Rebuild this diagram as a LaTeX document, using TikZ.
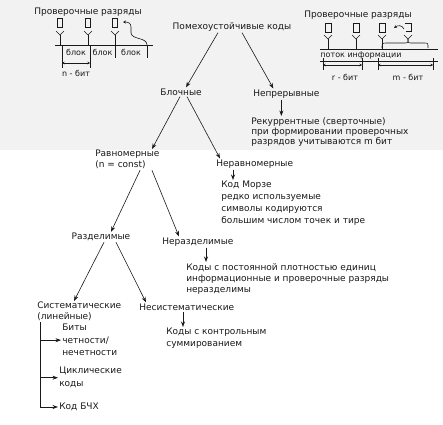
\documentclass[tikz,border=0pt]{standalone}
\usepackage{fontspec}
\setmainfont{DejaVu Sans}
\usepackage{tikz}
\usetikzlibrary{arrows.meta}

\tikzset{
  lbl/.style={inner sep=1pt, font=\fontsize{9}{11}\selectfont},
  multi/.style={lbl, align=left, anchor=north west},
  small/.style={inner sep=0.5pt, font=\fontsize{8}{9}\selectfont},
  arr/.style={->},
  dim/.style={<->, >={Stealth[length=2.5pt,width=2.5pt]}},
}

\begin{document}
\begin{tikzpicture}[x=1pt, y=-1pt, line width=0.6pt, color=black!90, >={Stealth[length=5.5pt,width=4pt]}]
				% Background
				\fill[black!5] (0,0) rectangle (443,150);
				\useasboundingbox (0,0) rectangle (443,424);
				
				% Left block scheme
				\node[lbl] (chkL) at (88,12) {Проверочные разряды};
				\foreach \x in {60,88,115} {
					\draw (\x-2.5,18) rectangle (\x+2.5,27);
					\draw (\x-4,31) -- (\x,35) -- (\x+4,31);
					\draw (\x,35) -- (\x,45);
				}
				\draw (55,45) -- (153,45);
				\foreach \x in {62,90,115,147}
					\draw (\x,45) -- (\x,58);
				\node[small] (b1) at (76,52) {блок};
				\node[small] (b2) at (102.5,52) {блок};
				\node[small] (b3) at (131,52) {блок};
				\draw (62,58) -- (62,68);
				\draw (90,58) -- (90,68);
				\draw[dim] (62,63) -- (90,63);
				\node[small] (nbit) at (76,73) {n - бит};
				\draw[->, >={Stealth[length=3pt,width=3pt]}] (147,45) .. controls (147,37) and (132,40) .. (131,33) -- (131,27) .. controls (131,23) and (128,22) .. (123,22);
				
				% Right stream scheme
				\node[lbl] (chkR) at (358,15) {Проверочные разряды};
				\foreach \x in {328,356,382} {
					\draw (\x-3,23) rectangle (\x+3,32);
					\draw (\x-4,35) -- (\x,39) -- (\x+4,35);
					\draw (\x,39) -- (\x,49);
				}
				\draw (405,23) -- (411,23) -- (411,31) -- (406,31);
				\draw (404,35) -- (408,39) -- (412,35);
				\draw (382,48) .. controls (382,43) .. (387,43) -- (403,43) .. controls (408,43) .. (408,39);
				\draw (408,39) .. controls (408,43) .. (413,43) -- (424,43) .. controls (428,43) .. (428,48);
				\draw[->, >={Stealth[length=3pt,width=3pt]}] (404,29) .. controls (402,25) and (398,25) .. (394,28);
				\draw (320,49) -- (438,49);
				\draw (320,61) -- (438,61);
				\node[small] (flow) at (361,55) {поток информации};
				\foreach \x in {323,362,378,433}
					\draw (\x,58) -- (\x,70);
				\draw[dim] (323,65) -- (362,65);
				\draw[dim] (378,65) -- (433,65);
				\node[small] (rbit) at (345,77) {r - бит};
				\node[small] (mbit) at (408,77) {m - бит};
				
				% Tree
				\node[lbl] (title) at (232,27) {Помехоустойчивые коды};
				\node[lbl] (blk) at (181,92) {Блочные};
				\node[lbl, anchor=west] (cont) at (252,94) {Непрерывные};
				\node[multi, font=\fontsize{9}{10}\selectfont] (rec) at (250,116) {Рекуррентные (сверточные)\\при формировании проверочных\\разрядов учитываются m бит};
				\node[multi] (unif) at (94,149) {Равномерные\\(n = const)};
				\node[lbl, anchor=west] (nonunif) at (215,164) {Неравномерные};
				\node[multi, font=\fontsize{9}{12}\selectfont] (morse) at (220,180) {Код Морзе\\редко используемые\\символы кодируются\\большим числом точек и тире};
				\node[lbl] (sep) at (101,237) {Разделимые};
				\node[lbl, anchor=west] (nonsep) at (161,242) {Неразделимые};
				\node[multi, font=\fontsize{9}{11}\selectfont] (const) at (185,262) {Коды с постоянной плотностью единиц\\информационные и проверочные разряды\\неразделимы};
				\node[multi] (sys) at (36,301) {Систематические\\(линейные)};
				\node[lbl, anchor=west] (nonsys) at (138,307) {Несистематические};
				\node[multi, font=\fontsize{9}{12}\selectfont] (chk) at (165,327) {Коды с контрольным\\суммированием};
				\node[multi, font=\fontsize{9}{12.5}\selectfont] (par) at (61,323) {Биты\\четности/\\нечетности};
				\node[multi, font=\fontsize{9}{13}\selectfont] (cyc) at (58,366) {Циклические\\коды};
				\node[lbl, anchor=west] (bch) at (58,407) {Код БЧХ};
				
				% Arrows
				\draw[arr] ([xshift=-14pt]title.south) -- ([xshift=5pt]blk.north);
				\draw[arr] ([xshift=10pt]title.south) -- ([xshift=-13pt]cont.north);
				\draw[arr] ([xshift=-5pt]cont.south) -- ([xshift=-5pt]cont.south |- rec.north);
				\draw[arr] ([xshift=-1pt]blk.south) -- ([xshift=58pt]unif.north west);
				\draw[arr] ([xshift=6pt]blk.south) -- ([xshift=5pt]nonunif.north west);
				\draw[arr] ([xshift=18pt]nonunif.south west) -- ([xshift=18pt]nonunif.south west |- morse.north);
				\draw[arr] ([xshift=46pt]unif.south west) -- ([xshift=10pt]sep.north);
				\draw[arr] ([xshift=58pt]unif.south west) -- ([xshift=18pt]nonsep.north west);
				\draw[arr] ([xshift=45pt]nonsep.south west) -- ([xshift=45pt]nonsep.south west |- const.north);
				\draw[arr] ([xshift=3pt]sep.south) -- ([xshift=38pt]sys.north west);
				\draw[arr] ([xshift=15pt]sep.south) -- ([xshift=8pt]nonsys.north west);
				\draw[arr] ([xshift=45pt]nonsys.south west) -- ([xshift=45pt]nonsys.south west |- chk.north);
				
				% Systematic codes
				\coordinate (bar) at ([xshift=4pt]sys.south west);
				\draw[arr] (bar) |- (bch.west);
				\draw[arr] (bar |- par.west) -- (par.west);
				\draw[arr] (bar |- cyc.west) -- (cyc.west);
			\end{tikzpicture}
\end{document}
